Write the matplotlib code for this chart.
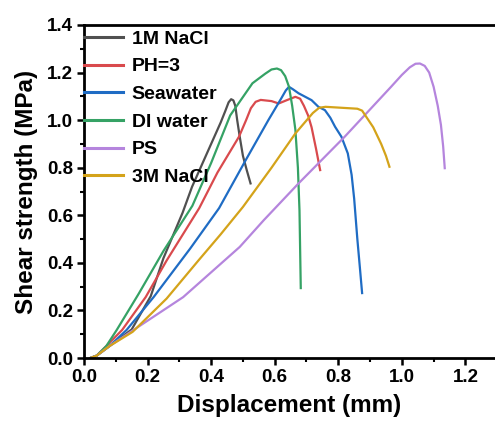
import matplotlib
matplotlib.use("Agg")
import matplotlib.pyplot as plt
from matplotlib.ticker import MultipleLocator

plt.rcParams['font.family'] = ['Liberation Sans', 'DejaVu Sans']
plt.rcParams['font.weight'] = 'bold'

labels = ["1M NaCl", "PH=3", "Seawater", "DI water", "PS", "3M NaCl"]
colors = ["#505050", "#d94a4d", "#1f6cc4", "#35a265", "#b585dd", "#d4a31a"]

x_1m = [0.02, 0.04, 0.08, 0.15, 0.21, 0.25, 0.31, 0.34, 0.40, 0.43, 0.445, 0.455, 0.463, 0.47, 0.476, 0.482, 0.49, 0.50, 0.512, 0.524]
y_1m = [0.0, 0.01, 0.05, 0.12, 0.26, 0.42, 0.61, 0.72, 0.90, 0.99, 1.04, 1.075, 1.088, 1.083, 1.06, 1.00, 0.93, 0.85, 0.79, 0.734]

x_ph = [0.02, 0.04, 0.07, 0.12, 0.194, 0.26, 0.3625, 0.42, 0.456, 0.4875, 0.51, 0.525, 0.54, 0.556, 0.59, 0.6125, 0.64, 0.665, 0.68, 0.692, 0.705, 0.716, 0.73, 0.743]
y_ph = [0.0, 0.01, 0.05, 0.118, 0.256, 0.41, 0.63, 0.78, 0.86, 0.93, 1.0, 1.05, 1.077, 1.085, 1.08, 1.07, 1.085, 1.098, 1.09, 1.06, 1.02, 0.97, 0.88, 0.79]

x_sw = [0.02, 0.04, 0.08, 0.134, 0.219, 0.334, 0.425, 0.508, 0.58, 0.62, 0.635, 0.645, 0.657, 0.675, 0.716, 0.7375, 0.758, 0.775, 0.79, 0.81, 0.83, 0.842, 0.85, 0.86, 0.868, 0.875]
y_sw = [0.0, 0.01, 0.05, 0.118, 0.256, 0.46, 0.63, 0.83, 1.0, 1.09, 1.125, 1.14, 1.13, 1.113, 1.084, 1.056, 1.042, 1.01, 0.972, 0.93, 0.86, 0.77, 0.67, 0.50, 0.38, 0.273]

x_di = [0.02, 0.04, 0.07, 0.103, 0.172, 0.25, 0.341, 0.40, 0.46, 0.53, 0.57, 0.59, 0.607, 0.62, 0.633, 0.645, 0.655, 0.665, 0.673, 0.678, 0.682]
y_di = [0.0, 0.01, 0.05, 0.118, 0.27, 0.45, 0.64, 0.82, 1.02, 1.155, 1.195, 1.213, 1.217, 1.21, 1.185, 1.14, 1.06, 0.96, 0.80, 0.62, 0.294]

x_ps = [0.02, 0.04, 0.08, 0.156, 0.312, 0.49, 0.566, 0.675, 0.82, 0.966, 1.0, 1.025, 1.043, 1.057, 1.072, 1.086, 1.1, 1.113, 1.123, 1.13, 1.135]
y_ps = [0.0, 0.01, 0.05, 0.118, 0.256, 0.467, 0.58, 0.734, 0.93, 1.14, 1.19, 1.222, 1.237, 1.238, 1.228, 1.2, 1.14, 1.06, 0.98, 0.89, 0.798]

x_3m = [0.02, 0.04, 0.08, 0.153, 0.26, 0.36, 0.43, 0.5, 0.59, 0.665, 0.72, 0.74, 0.76, 0.86, 0.875, 0.89, 0.91, 0.935, 0.95, 0.961]
y_3m = [0.0, 0.01, 0.05, 0.11, 0.25, 0.41, 0.52, 0.635, 0.80, 0.944, 1.03, 1.052, 1.056, 1.048, 1.04, 1.01, 0.97, 0.90, 0.85, 0.804]

series = [(x_1m, y_1m), (x_ph, y_ph), (x_sw, y_sw), (x_di, y_di), (x_ps, y_ps), (x_3m, y_3m)]

fig = plt.figure(figsize=(4.95, 4.3), dpi=100)
ax = fig.add_axes([0.1697, 0.1674, 0.8283, 0.7745])

for (xs, ys), lab, c in zip(series, labels, colors):
    ax.plot(xs, ys, color=c, lw=1.6, label=lab, solid_joinstyle='round')

ax.set_xlim(0, 1.29)
ax.set_ylim(0, 1.4)
ax.xaxis.set_major_locator(MultipleLocator(0.2))
ax.xaxis.set_minor_locator(MultipleLocator(0.1))
ax.yaxis.set_major_locator(MultipleLocator(0.2))
ax.yaxis.set_minor_locator(MultipleLocator(0.1))
ax.xaxis.set_major_formatter(plt.FuncFormatter(lambda v, p: f"{v:.1f}"))
ax.yaxis.set_major_formatter(plt.FuncFormatter(lambda v, p: f"{v:.1f}"))

ax.spines['right'].set_visible(False)
for s in ['left', 'bottom', 'top']:
    ax.spines[s].set_linewidth(2)
ax.tick_params(which='major', direction='out', length=5, width=1.8, labelsize=13.5, pad=3)
ax.tick_params(which='minor', direction='out', length=3, width=1.5)
for t in ax.get_xticklabels() + ax.get_yticklabels():
    t.set_fontweight('bold')

ax.set_xlabel("Displacement (mm)", fontsize=17.5, fontweight='bold', labelpad=6)
ax.set_ylabel("Shear strength (MPa)", fontsize=17.5, fontweight='bold', labelpad=6)

leg = ax.legend(loc='upper left', frameon=False, handlelength=2.0,
                handletextpad=0.45, labelspacing=0.52, borderaxespad=0.0,
                borderpad=0.0, bbox_to_anchor=(0.0, 0.985),
                prop={'weight': 'bold', 'size': 14})
for line in leg.get_lines():
    line.set_linewidth(2.2)

fig.savefig("out.png", dpi=100)
